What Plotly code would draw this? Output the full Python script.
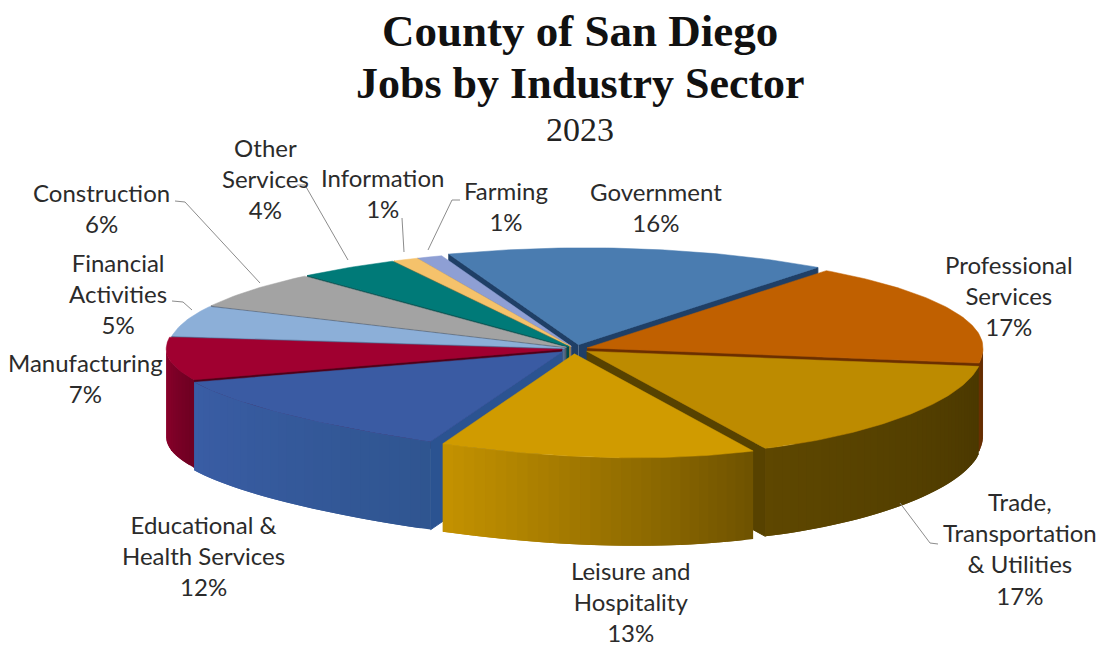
import numpy as np
import plotly.graph_objects as go

# ---- data ----
sectors = ["Government", "Professional Services", "Trade, Transportation & Utilities",
           "Leisure and Hospitality", "Educational & Health Services", "Manufacturing",
           "Financial Activities", "Construction", "Other Services", "Information", "Farming"]
shares = [16, 17, 17, 13, 12, 7, 5, 6, 4, 1, 1]

# ---- styling, kept apart from the data ----
label_text = ["Government<br>16%", "Professional<br>Services<br>17%",
              "Trade,<br>Transportation<br>& Utilities<br>17%", "Leisure and<br>Hospitality<br>13%",
              "Educational &<br>Health Services<br>12%", "Manufacturing<br>7%",
              "Financial<br>Activities<br>5%", "Construction<br>6%", "Other<br>Services<br>4%",
              "Information<br>1%", "Farming<br>1%"]
label_xy = [(656, 207), (1009, 295), (1020, 548), (630, 601), (203, 555), (85, 378),
            (118, 293), (101, 208), (265, 178), (382, 193), (506, 206)]
top_colors = ["#4a7cb0", "#c06000", "#bd8b00", "#d09b00", "#3a5ba3", "#a00030",
              "#8cafd8", "#a3a3a3", "#007a78", "#f5c26b", "#8e9fd4"]
wall_left = ["#264a70", "#6b3000", "#5e4700", "#c49200", "#3a5da5", "#8f002c",
             "#6080a0", "#707070", "#005050", "#a08040", "#606a90"]
wall_right = ["#264a70", "#5c2800", "#4a3800", "#6e5200", "#2f5590", "#6e0022",
              "#6080a0", "#707070", "#005050", "#a08040", "#606a90"]
cut_colors = ["#1f3f66", "#6b2f00", "#574200", "#7a5c00", "#2b5391", "#4e0018",
              "#4f6f95", "#4f5a6a", "#004a4a", "#a08040", "#606a90"]
explode = [0.045, 0.03, 0.035, 0.05, 0.045, 0.035, 0.03, 0.03, 0.03, 0.03, 0.03]
START, RX, RY, CX, CY, DEPTH = -21.0, 396.0, 97.0, 576.0, 349.0, 88.0
FRONT_SKEW, SKEW_SIDE, BACK_SKEW, FRONT_DROP = 61.0, 10.0, 14.0, 7.0

leaders = [[(175, 201), (185, 202), (260, 283)], [(297, 185), (305, 185), (348, 260)],
           [(402, 218), (404, 252)], [(460, 200), (452, 200), (428, 250)],
           [(172, 301), (183, 302), (192, 310)], [(900, 503), (930, 543), (938, 544)]]


def hex2rgb(h):
    return np.array([int(h[i:i + 2], 16) for i in (1, 3, 5)], float)


def mix(a, b, t):
    c = hex2rgb(a) * (1 - t) + hex2rgb(b) * t
    return "rgb(%d,%d,%d)" % tuple(c.round())


fig = go.Figure()


def poly(xs, ys, color, lw=1.0):
    fig.add_trace(go.Scatter(x=list(xs), y=list(ys), mode="lines", fill="toself", fillcolor=color,
                             line=dict(color=color, width=lw), hoverinfo="skip", showlegend=False))


def warp(deg):
    """Projection of a rim angle: the front of the disc leans right and down, as in the 3-D view."""
    c = -np.cos(np.radians(deg))
    s = np.sin(np.radians(deg))
    front = np.clip(c, 0, None)
    back_left = np.clip(-c, 0, None) * (s < 0)
    dx = (FRONT_SKEW - SKEW_SIDE * s * 2) * front ** 2 + BACK_SKEW * back_left ** 2
    return dx, FRONT_DROP * front ** 4


unit = 360.0 / sum(shares)
edges = START + np.cumsum([0] + shares) * unit
mids = (edges[:-1] + edges[1:]) / 2
order = np.argsort(np.abs(((mids + 180) % 360) - 180))

for i in order:
    a0, a1 = edges[i], edges[i + 1]
    m = np.radians(mids[i])
    ox, oy = RX * explode[i] * np.sin(m), -RY * explode[i] * np.cos(m)
    tx, ty = CX + ox, CY + oy


    def rim(deg):
        dx, dy = warp(deg)
        return tx + RX * np.sin(np.radians(deg)) + dx, ty - RY * np.cos(np.radians(deg)) + dy


    # cut faces that look toward the viewer
    s0, s1 = np.sin(np.radians(a0)), np.sin(np.radians(a1))
    if s0 < 0:
        x, y = rim(a0)
        poly([tx, x, x, tx], [ty, y, y + DEPTH, ty + DEPTH], cut_colors[i])
    if s1 > 0:
        x, y = rim(a1)
        poly([tx, x, x, tx], [ty, y, y + DEPTH, ty + DEPTH], cut_colors[i])

    # outer wall: overlapping thin strips give the horizontal shading without seams
    lo, hi = max(a0, 90), min(a1, 270)
    if hi > lo:
        steps = np.linspace(lo, hi, max(2, int((hi - lo) / 1.5) + 1))
        n = len(steps) - 1
        for k in range(n):
            t = 1 - (k + 0.5) / n
            seg = steps[k:min(k + 3, n + 1)]
            x, y = rim(seg)
            poly(np.r_[x, x[::-1]], np.r_[y, y[::-1] + DEPTH], mix(wall_left[i], wall_right[i], t), lw=0)

    # top face
    arc = np.linspace(a0, a1, max(4, int(a1 - a0) + 1))
    xs, ys = rim(arc)
    poly(np.r_[tx, xs, tx], np.r_[ty, ys, ty], top_colors[i], lw=0.5)

for path in leaders:
    fig.add_trace(go.Scatter(x=[p[0] for p in path], y=[p[1] for p in path], mode="lines",
                             line=dict(color="#8c8c8c", width=1), hoverinfo="skip", showlegend=False))

labels = [dict(x=p[0], y=p[1], text=t, showarrow=False, align="center", xanchor="center", yanchor="middle",
               font=dict(family="Lato", size=24, color="#2b2b2b")) for p, t in zip(label_xy, label_text)]
titles = [
    dict(x=580, y=31, text="<b>County of San Diego</b>", font=dict(family="Liberation Serif", size=45, color="#111111")),
    dict(x=580, y=83, text="<b>Jobs by Industry Sector</b>", font=dict(family="Liberation Serif", size=44, color="#111111")),
    dict(x=580, y=129, text="2023", font=dict(family="Liberation Serif", size=34, color="#222222")),
]
for d in titles:
    d.update(showarrow=False, xanchor="center", yanchor="middle")

fig.update_layout(
    width=1101, height=667, margin=dict(l=0, r=0, t=0, b=0), paper_bgcolor="white", plot_bgcolor="white",
    xaxis=dict(range=[0, 1101], visible=False, fixedrange=True),
    yaxis=dict(range=[667, 0], visible=False, fixedrange=True),
    annotations=labels + titles, showlegend=False,
)
fig.write_html("out.html", post_script="document.body.style.margin='0';", config={"displayModeBar": False})
